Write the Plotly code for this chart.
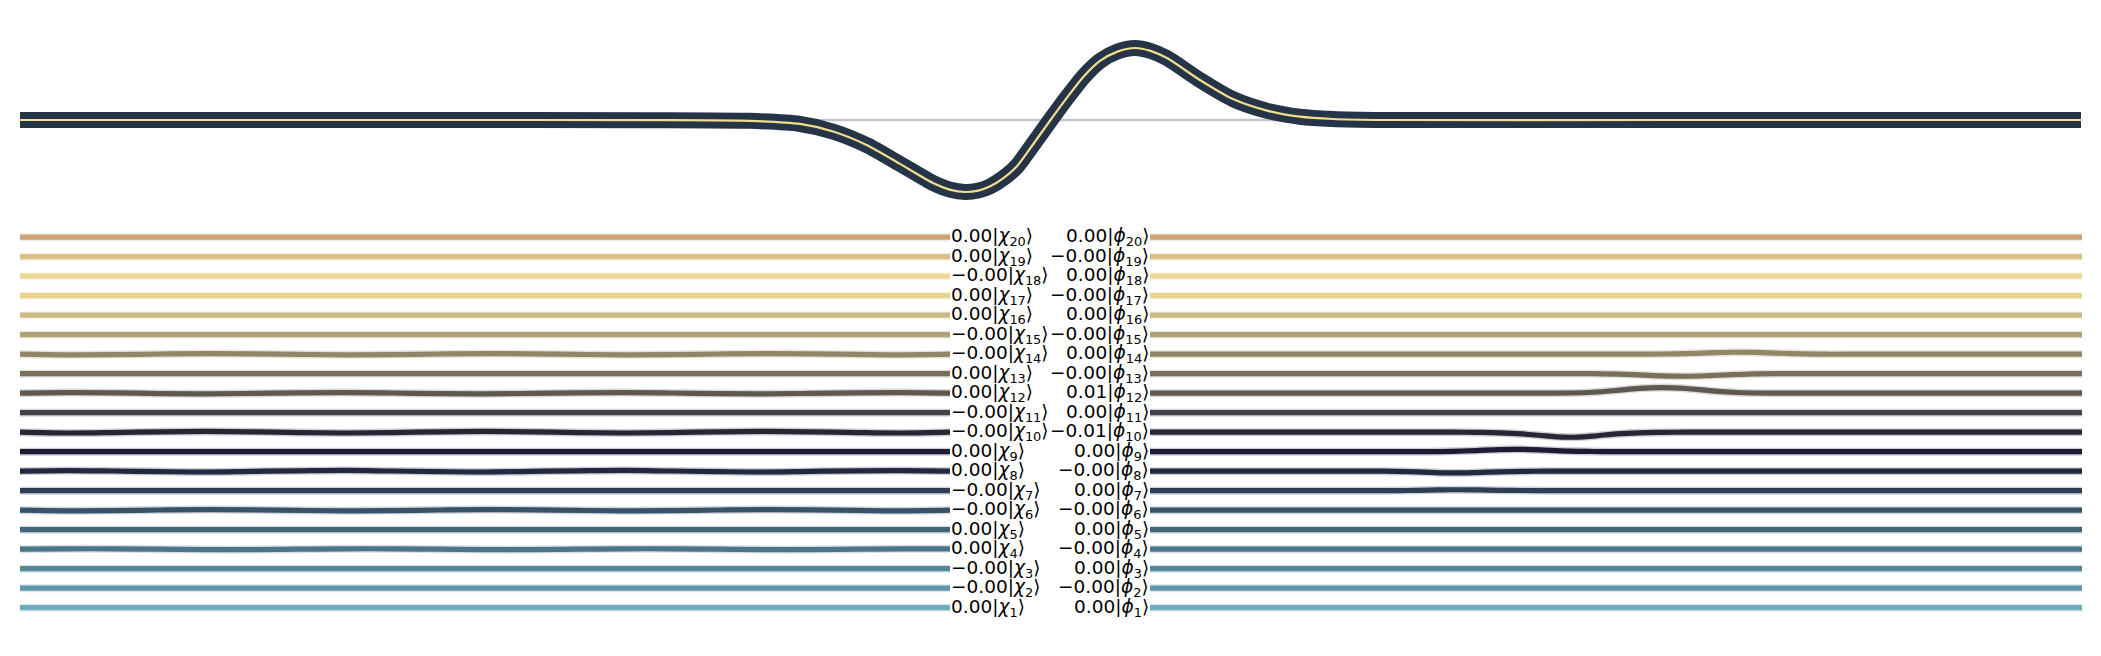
import plotly.graph_objects as go

W, H = 2101, 656

# ---- top panel: wave packet (position units -10..10, amplitude normalised) ----
wave_x = [-10, -6, -3.9, -2.92, -2.43, -2.11, -1.78, -1.46, -1.14, -0.97, -0.83, -0.7, -0.59,
          -0.46, -0.33, -0.17, 0.0, 0.16, 0.32, 0.48, 0.65, 0.82, 0.97, 1.13, 1.45, 1.77,
          2.10, 2.42, 2.74, 3.23, 6, 10]
wave_psi = [0, 0, -0.002, -0.012, -0.055, -0.16, -0.35, -0.61, -0.875, -0.97, -1.0, -0.98, -0.925,
            -0.81, -0.65, -0.34, 0.0, 0.31, 0.60, 0.82, 0.95, 1.0, 0.96, 0.86, 0.555, 0.29,
            0.13, 0.046, 0.014, 0.0, 0, 0]

# ---- bottom: basis states ----
rows = list(range(1, 21))
chi_coef = [0.001, -0.001, -0.002, 0.001, 0.002, -0.001, -0.002, 0.001, 0.002, -0.003,
            -0.001, 0.002, 0.001, -0.002, -0.001, 0.001, 0.002, -0.001, 0.001, 0.002]
phi_coef = [0.001, -0.001, 0.002, -0.001, 0.002, -0.002, 0.001, -0.002, 0.003, -0.008,
            0.002, 0.007, -0.002, 0.003, -0.001, 0.001, -0.001, 0.001, -0.001, 0.001]

row_colors = ["#6aaebd", "#5f99a9", "#558796", "#4b7588", "#41667a", "#37536a", "#2e3f55",
              "#21283f", "#1c1c34", "#282636", "#444148", "#5e5850", "#7a705a", "#928667",
              "#b1a276", "#cbb983", "#e8d38f", "#efd896", "#dcbd85", "#cda374"]

# line shapes of the phi states (deviation from the row, in row units)
grid = [-10, -5, -4.5, -4, -3.5, -3, -2.5, -2, -1.5, -1, -0.5, 0, 0.5, 1, 1.5, 2, 2.5, 3,
        3.5, 4, 4.5, 5, 10]
phi_dev = {
    7:  [0, 0, 0.01, 0.03, 0.05, 0.04, 0.02, 0.01, 0, 0, 0, 0, 0, 0, 0, 0, 0, 0, 0, 0, 0, 0, 0],
    8:  [0, 0, -0.02, -0.06, -0.09, -0.07, -0.03, -0.01, 0, 0, 0, 0, 0, 0, 0, 0, 0, 0, 0, 0, 0, 0, 0],
    9:  [0, 0, 0, 0, 0.02, 0.06, 0.11, 0.12, 0.08, 0.03, 0.01, 0, 0, 0, 0, 0, 0, 0, 0, 0, 0, 0, 0],
    10: [0, 0, 0, 0, 0, -0.01, -0.03, -0.09, -0.19, -0.26, -0.2, -0.09, -0.03, -0.01, 0, 0, 0, 0, 0, 0, 0, 0, 0],
    12: [0, 0, 0, 0, 0, 0, 0, 0, 0, 0.01, 0.05, 0.14, 0.25, 0.29, 0.24, 0.13, 0.05, 0.01, 0, 0, 0, 0, 0],
    13: [0, 0, 0, 0, 0, 0, 0, 0, 0, 0, 0, -0.02, -0.06, -0.11, -0.13, -0.1, -0.05, -0.01, 0, 0, 0, 0, 0],
    14: [0, 0, 0, 0, 0, 0, 0, 0, 0, 0, 0, 0, 0, 0.01, 0.03, 0.07, 0.1, 0.09, 0.05, 0.02, 0, 0, 0],
}

lgrid = [-10, -9, -8, -7, -6, -5, -4, -3, -2, -1, 0, 1, 2, 3, 4, 5, 6, 7, 8, 9, 10]
chi_dev = {
    4:  [0, 0.02, 0.02, 0, -0.02, -0.02, 0, 0.02, 0.02, 0, -0.02, -0.02, 0, 0.02, 0.02, 0, -0.02, -0.02, 0, 0.02, 0.02],
    6:  [0, -0.03, -0.02, 0.01, 0.03, 0.02, -0.01, -0.03, -0.02, 0.01, 0.03, 0.02, -0.01, -0.03, -0.02, 0.01, 0.03, 0.02, -0.01, -0.03, 0],
    8:  [0, 0.03, 0.01, -0.02, -0.04, -0.01, 0.02, 0.04, 0.01, -0.02, -0.04, -0.01, 0.02, 0.04, 0.01, -0.02, -0.04, -0.01, 0.02, 0.03, 0],
    10: [0, -0.04, -0.02, 0.02, 0.04, 0.02, -0.02, -0.04, -0.02, 0.02, 0.04, 0.02, -0.02, -0.04, -0.02, 0.02, 0.04, 0.02, -0.02, -0.04, 0],
    12: [0, 0.03, 0.02, -0.02, -0.03, -0.01, 0.02, 0.03, 0.01, -0.02, -0.03, -0.01, 0.02, 0.03, 0.01, -0.02, -0.03, -0.01, 0.02, 0.03, 0],
    14: [0, -0.03, -0.02, 0.01, 0.03, 0.02, -0.01, -0.03, -0.02, 0.01, 0.03, 0.02, -0.01, -0.03, -0.02, 0.01, 0.03, 0.02, -0.01, -0.03, 0],
}


def rgba(hexc, a):
    h = hexc.lstrip("#")
    return "rgba(%d,%d,%d,%.2f)" % (int(h[0:2], 16), int(h[2:4], 16), int(h[4:6], 16), a)


def fmt(v):
    return ("%.2f" % v).replace("-", "\u2212")


fig = go.Figure()

# baseline + wave
fig.add_trace(go.Scatter(x=[-10, 10], y=[0, 0], mode="lines", xaxis="x", yaxis="y",
                         line=dict(color="#c3c6cc", width=2.5), hoverinfo="skip"))
fig.add_trace(go.Scatter(x=wave_x, y=wave_psi, mode="lines", xaxis="x", yaxis="y",
                         line=dict(color="#253447", width=16, shape="spline", smoothing=0.7),
                         hoverinfo="skip"))
fig.add_trace(go.Scatter(x=wave_x, y=wave_psi, mode="lines", xaxis="x", yaxis="y",
                         line=dict(color="#f2dc8e", width=2.2, shape="spline", smoothing=0.7),
                         hoverinfo="skip"))

annotations = []
for i, n in enumerate(rows):
    col = row_colors[i]
    # left: chi states
    if n in chi_dev:
        lx, ly = lgrid, [n + d for d in chi_dev[n]]
    else:
        lx, ly = [-10, 10], [n, n]
    # right: phi states
    if n in phi_dev:
        rx, ry = grid, [n + d for d in phi_dev[n]]
    else:
        rx, ry = [-10, 10], [n, n]
    for xs, ys, xa in ((lx, ly, "x2"), (rx, ry, "x3")):
        fig.add_trace(go.Scatter(x=xs, y=ys, mode="lines", xaxis=xa, yaxis="y2",
                                 line=dict(color=rgba(col, 0.22), width=8, shape="spline"),
                                 hoverinfo="skip"))
        fig.add_trace(go.Scatter(x=xs, y=ys, mode="lines", xaxis=xa, yaxis="y2",
                                 line=dict(color=col, width=5.2, shape="spline"),
                                 hoverinfo="skip"))
    annotations.append(dict(x=10, y=n, xref="x2", yref="y2", xanchor="left", yanchor="middle",
                            text="%s|<i>\u03c7</i><sub>%d</sub>\u27e9" % (fmt(chi_coef[i]), n),
                            showarrow=False, xshift=-1,
                            font=dict(family="DejaVu Sans", size=18.5, color="#000000")))
    annotations.append(dict(x=-10, y=n, xref="x3", yref="y2", xanchor="right", yanchor="middle",
                            text="%s|<i>\u03d5</i><sub>%d</sub>\u27e9" % (fmt(phi_coef[i]), n),
                            showarrow=False, xshift=1,
                            font=dict(family="DejaVu Sans", size=18.5, color="#000000")))

ax = dict(visible=False, showgrid=False, zeroline=False, fixedrange=True)
fig.update_layout(
    width=W, height=H, margin=dict(l=0, r=0, t=0, b=0),
    paper_bgcolor="white", plot_bgcolor="rgba(0,0,0,0)", showlegend=False,
    xaxis=dict(ax, domain=[20 / W, 2081 / W], range=[-10, 10], anchor="y"),
    yaxis=dict(ax, domain=[1 - 235.2 / H, 1 - 4.8 / H], range=[-1.6, 1.6], anchor="x"),
    xaxis2=dict(ax, domain=[20 / W, 950 / W], range=[-10, 10], anchor="y2"),
    yaxis2=dict(ax, domain=[1 - 627.2 / H, 1 - 217.7 / H], range=[0, 21], anchor="x2"),
    xaxis3=dict(ax, domain=[1150 / W, 2082 / W], range=[-10, 10], anchor="y2"),
    annotations=annotations,
)

fig.write_html("out.html", config={"displayModeBar": False},
               post_script="document.body.style.margin='0';")
